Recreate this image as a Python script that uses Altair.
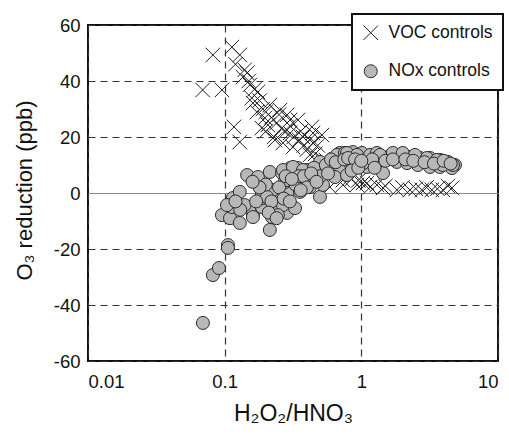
import altair as alt
import pandas as pd

# VOC controls (x = H2O2/HNO3, y = O3 reduction ppb)
voc_x = [0.082, 0.113, 0.069, 0.0955, 0.117, 0.129, 0.136, 0.129, 0.146, 0.175,
         0.158, 0.172, 0.197, 0.301, 0.443, 0.187, 0.214, 0.286, 0.344, 0.435,
         0.515, 0.301, 0.374, 0.443, 0.316, 0.267, 0.233, 0.153, 0.161, 0.207,
         0.254, 0.421, 0.55, 0.641, 0.498, 0.589, 0.733, 0.589, 0.733, 0.929,
         1.16, 1.44, 1.82, 2.27, 2.77, 3.28, 3.95, 4.60, 1.03, 1.30,
         0.12, 0.14, 0.15, 0.165, 0.18, 0.19, 0.20, 0.22, 0.24, 0.26,
         0.28, 0.32, 0.35, 0.38, 0.40, 0.46, 0.52, 0.60, 0.70, 0.85,
         0.95, 1.10, 1.50, 2.00, 2.50, 3.00, 3.60, 4.30, 0.25, 0.30,
         0.36, 0.42, 0.48, 0.20, 0.23]
voc_y = [49.3, 52.1, 36.8, 36.8, 23.6, 18.2, 41.4, 49.3, 42.9, 36.1,
         33.9, 28.9, 26.8, 26.1, 21.4, 23.2, 31.4, 27.9, 26.1, 23.6,
         20.7, 21.4, 20.0, 17.9, 16.4, 17.9, 18.9, 38.6, 32.1, 24.3,
         29.6, 13.6, 11.8, 8.9, 8.2, 6.4, 4.6, 2.1, 2.9, 2.9,
         2.1, 1.8, 1.1, 1.1, 1.1, 1.1, 1.1, 1.8, 3.6, 2.9,
         46.0, 44.0, 40.0, 37.0, 33.0, 30.0, 29.0, 27.0, 25.0, 23.0,
         22.0, 20.0, 19.0, 17.0, 15.5, 14.0, 12.0, 10.0, 7.0, 5.0,
         4.5, 3.5, 2.5, 2.0, 1.5, 2.0, 1.5, 2.5, 28.0, 24.0,
         22.0, 19.0, 17.0, 22.0, 20.0]

# NOx controls
nox_x = [0.0693, 0.082, 0.0908, 0.1057, 0.1057, 0.0955, 0.1094, 0.129, 0.113, 0.115,
         0.129, 0.146, 0.175, 0.214, 0.263, 0.161, 0.153, 0.187, 0.191, 0.233,
         0.225, 0.187, 0.214, 0.245, 0.286, 0.14, 0.204, 0.222, 0.267, 0.327,
         0.290, 0.356, 0.421, 0.498, 0.524, 0.276, 0.316, 0.387, 0.443, 0.161,
         0.245, 0.301, 0.344, 0.400, 0.473, 0.524, 0.620, 0.733, 0.697, 0.498,
         0.267, 0.316, 0.374, 0.589, 0.663, 0.759, 0.868, 1.01, 1.16, 1.30,
         0.929, 1.10, 0.663, 0.356, 0.286, 0.785, 0.929, 1.32, 1.57, 1.92,
         2.27, 2.69, 3.18, 3.76, 4.30, 4.84, 0.697, 0.826, 1.03, 1.30,
         1.44, 1.82, 2.16, 2.59, 3.18, 3.76, 4.60, 0.641, 0.785, 1.37,
         1.70, 2.01, 2.47, 3.02, 3.57, 3.95, 4.68, 0.104,
         0.20, 0.22, 0.25, 0.27, 0.30, 0.33, 0.35, 0.38, 0.40, 0.45,
         0.50, 0.55, 0.60, 0.65, 0.75, 0.80, 0.90, 1.20, 1.50, 1.70,
         2.10, 2.40, 2.90, 3.40, 4.00, 4.50, 0.17, 0.18, 0.13, 0.12,
         0.16, 0.21, 0.24, 0.28, 0.31, 0.36, 0.43, 0.47, 0.57, 0.85,
         0.95, 1.25, 1.00]
nox_y = [-46.4, -29.3, -26.8, -18.6, -19.6, -7.9, -9.0, -10.7, -5.0, -1.8,
         0.4, 6.4, 5.7, 7.5, 7.1, -7.9, -5.0, -5.0, -1.8, -1.8,
         1.1, 0.0, -13.2, -5.0, -7.1, -4.3, -1.4, -8.6, -4.3, -5.4,
         0.4, 0.4, 2.1, -1.4, 2.9, 3.9, 4.6, 4.6, 5.4, -8.6,
         -7.9, 8.9, 8.9, 8.2, 7.1, 9.3, 8.9, 10.7, 14.3, 11.1,
         8.2, 9.3, 8.2, 9.3, 13.6, 14.3, 14.6, 14.3, 13.6, 14.3,
         11.1, 9.3, 7.5, 3.9, 4.6, 14.3, 13.6, 12.9, 12.9, 12.9,
         12.9, 12.5, 12.5, 11.8, 11.1, 10.0, 9.3, 10.7, 10.7, 11.1,
         7.1, 11.1, 10.7, 10.0, 9.3, 9.3, 8.9, 5.7, 6.4, 13.6,
         14.3, 14.3, 13.6, 12.5, 11.8, 10.0, 10.0, -4.3,
         3.0, -3.0, 2.0, -2.0, -3.0, 3.0, 6.0, 6.0, 2.0, 9.0,
         6.0, 10.0, 12.0, 11.0, 12.0, 12.5, 12.0, 12.0, 11.5, 12.0,
         12.0, 11.5, 11.0, 10.5, 11.5, 10.5, -3.0, 2.0, -6.0, -3.0,
         4.0, -7.0, -9.0, 6.0, 5.0, 1.0, 7.0, 4.0, 7.0, 8.0,
         9.0, 9.0, 11.5]

series_names = ["VOC controls", "NOx controls"]
x_ticks = [0.01, 0.1, 1, 10]
y_ticks = [-60, -40, -20, 0, 20, 40, 60]

df = pd.DataFrame({
    "x": voc_x + nox_x,
    "y": voc_y + nox_y,
    "series": [series_names[0]] * len(voc_x) + [series_names[1]] * len(nox_x),
})

X_PATH = "M-1,-1L1,1M1,-1L-1,1"

chart = alt.Chart(df).mark_point(opacity=1, strokeWidth=1).encode(
    x=alt.X("x:Q", scale=alt.Scale(type="log", domain=[0.01, 10]),
            axis=alt.Axis(values=x_ticks, format="~g", title="H₂O₂/HNO₃",
                          grid=True, gridDash=[7, 5], gridColor="#333",
                          gridWidth=1.2, titleY=52, titleBaseline="middle",
                          titleFontSize=23)),
    y=alt.Y("y:Q", scale=alt.Scale(domain=[-60, 60], nice=False),
            axis=alt.Axis(values=y_ticks, title="O₃ reduction (ppb)",
                          labelExpr="datum.value < 0 ? '-' + abs(datum.value) : '' + datum.value",
                          grid=True,
                          gridDash=alt.condition("datum.value == 0", alt.value([]), alt.value([7, 5])),
                          gridColor=alt.condition("datum.value == 0", alt.value("#8a8a8a"), alt.value("#333")),
                          gridWidth=1.2,
                          titleAngle=270, titleAlign="center", titleBaseline="middle",
                          titleX=-64, titleY=165)),
    shape=alt.Shape("series:N", scale=alt.Scale(domain=series_names, range=[X_PATH, "circle"]), title=None),
    fill=alt.Fill("series:N", scale=alt.Scale(domain=series_names, range=["transparent", "#b8b8b8"]), title=None),
    stroke=alt.Stroke("series:N", scale=alt.Scale(domain=series_names, range=["#222222", "#2a2a2a"]), title=None),
    size=alt.Size("series:N", scale=alt.Scale(domain=series_names, range=[210, 169]), title=None),
).properties(
    width=410, height=336,
    autosize=alt.AutoSizeParams(type="none"),
    padding={"left": 88, "top": 25, "right": 11, "bottom": 74},
).configure(
    font="Liberation Sans",
).configure_view(
    stroke="#111", strokeWidth=2,
).configure_axis(
    domain=False, ticks=False, labelFontSize=18.5, labelColor="#111",
    titleFontSize=22, titleFontWeight="normal", titleColor="#111",
    labelPadding=8,
).configure_axisX(
    labelPadding=11,
).configure_legend(
    orient="none", legendX=264, legendY=-11,
    padding=10, labelFontSize=17.5, labelColor="#111", labelOffset=9,
    rowPadding=19.5, strokeColor="#111", strokeWidth=2, fillColor="white",
    symbolStrokeWidth=1, symbolSize=200,
)

chart.save("out.html", embed_options={"renderer": "svg", "actions": False})
